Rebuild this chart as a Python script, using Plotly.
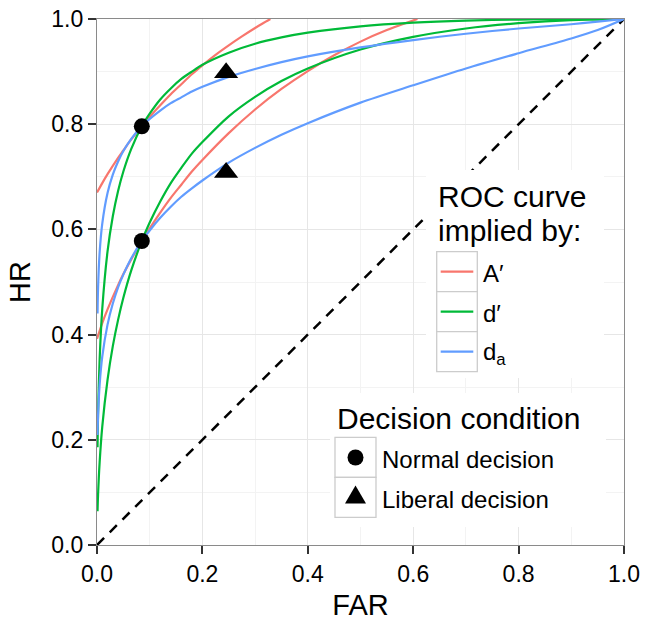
import plotly.graph_objects as go

# ---- data -------------------------------------------------------------
# A' iso-sensitivity curves (upper = more sensitive observer)
aprime_far_hi = [0.0, 0.01, 0.02, 0.04, 0.05, 0.065, 0.085, 0.1, 0.12, 0.14, 0.16,
                 0.18, 0.2, 0.225, 0.25, 0.275, 0.3, 0.315, 0.329]
aprime_hr_hi = [0.670, 0.688, 0.705, 0.736, 0.750, 0.771, 0.796, 0.814, 0.836, 0.857,
                0.876, 0.895, 0.912, 0.932, 0.950, 0.967, 0.983, 0.992, 1.0]
aprime_far_lo = [0.0, 0.01, 0.02, 0.04, 0.05, 0.065, 0.085, 0.1, 0.12, 0.14, 0.16,
                 0.18, 0.2, 0.25, 0.3, 0.35, 0.4, 0.45, 0.5, 0.55, 0.608]
aprime_hr_lo = [0.392, 0.422, 0.448, 0.494, 0.515, 0.543, 0.578, 0.602, 0.632, 0.660,
                0.685, 0.710, 0.732, 0.783, 0.828, 0.867, 0.901, 0.931, 0.957, 0.979, 1.0]

# FAR values shared by the d' and d_a curves
far_grid = [0.001, 0.002, 0.005, 0.01, 0.02, 0.03, 0.04, 0.05, 0.065, 0.085, 0.1,
            0.12, 0.14, 0.16, 0.18, 0.2, 0.25, 0.3, 0.35, 0.4, 0.5, 0.6, 0.7, 0.8,
            0.9, 0.95, 1.0]
dprime_hr_hi = [0.186, 0.249, 0.353, 0.449, 0.558, 0.625, 0.673, 0.710, 0.753, 0.796,
                0.820, 0.847, 0.868, 0.886, 0.900, 0.913, 0.936, 0.953, 0.965, 0.974,
                0.986, 0.993, 0.997, 0.999, 1.0, 1.0, 1.0]
dprime_hr_lo = [0.064, 0.095, 0.157, 0.225, 0.314, 0.378, 0.428, 0.470, 0.522, 0.578,
                0.613, 0.653, 0.688, 0.717, 0.744, 0.766, 0.815, 0.852, 0.882, 0.906,
                0.942, 0.966, 0.982, 0.992, 0.998, 0.999, 1.0]
da_hr_hi = [0.440, 0.488, 0.556, 0.611, 0.669, 0.704, 0.729, 0.749, 0.772, 0.796,
            0.810, 0.826, 0.840, 0.851, 0.862, 0.871, 0.890, 0.905, 0.918, 0.929,
            0.946, 0.960, 0.972, 0.982, 0.990, 0.995, 1.0]
da_hr_lo = [0.209, 0.246, 0.305, 0.358, 0.419, 0.459, 0.490, 0.514, 0.545, 0.578,
            0.598, 0.622, 0.643, 0.662, 0.678, 0.693, 0.727, 0.755, 0.780, 0.802,
            0.841, 0.874, 0.906, 0.935, 0.963, 0.979, 1.0]

# observed operating points
normal_far = [0.085, 0.085]
normal_hr = [0.796, 0.578]
liberal_far = [0.245, 0.245]
liberal_hr = [0.898, 0.708]

chance_line = [0.0, 1.0]

axis_ticks = [0.0, 0.2, 0.4, 0.6, 0.8, 1.0]
axis_ticktext = ["0.0", "0.2", "0.4", "0.6", "0.8", "1.0"]

roc_title = ["ROC curve", "implied by:"]
roc_labels = ["A\u2032", "d\u2032", "d<sub>a</sub>"]
decision_title = "Decision condition"
decision_labels = ["Normal decision", "Liberal decision"]

# ---- style ------------------------------------------------------------
FONT = "Liberation Sans, Arial, sans-serif"
RED, GREEN, BLUE = "#F8766D", "#00BA38", "#619CFF"
CURVE_W = 2.2

ML, MR, MT, MB = 97, 22, 19, 76
FIG_W, FIG_H = 646, 621
PW, PH = FIG_W - ML - MR, FIG_H - MT - MB


def px(x):
    return (x - ML) / PW


def py(y):
    return 1 - (y - MT) / PH


fig = go.Figure()

fig.add_trace(go.Scatter(x=chance_line, y=chance_line, mode="lines",
                         line=dict(color="black", width=2.5, dash="10px,8px"),
                         showlegend=False, hoverinfo="skip"))

curves = [
    (aprime_far_hi, aprime_hr_hi, RED),
    (aprime_far_lo, aprime_hr_lo, RED),
    (far_grid, dprime_hr_hi, GREEN),
    (far_grid, dprime_hr_lo, GREEN),
    (far_grid, da_hr_hi, BLUE),
    (far_grid, da_hr_lo, BLUE),
]
for xs, ys, col in curves:
    fig.add_trace(go.Scatter(x=xs, y=ys, mode="lines",
                             line=dict(color=col, width=CURVE_W, shape="spline", smoothing=0.8),
                             showlegend=False))

fig.add_trace(go.Scatter(x=normal_far, y=normal_hr, mode="markers",
                         marker=dict(symbol="circle", size=16, color="black"),
                         showlegend=False))
fig.add_trace(go.Scatter(x=liberal_far, y=liberal_hr, mode="markers",
                         marker=dict(symbol="triangle-up", size=21, color="black"),
                         showlegend=False))

# ---- legend panels drawn in paper space --------------------------------
shapes = []
annotations = []

# ROC legend
shapes.append(dict(type="rect", xref="paper", yref="paper", layer="above",
                   x0=px(426), x1=px(604), y0=py(378), y1=py(170),
                   fillcolor="white", line=dict(width=0)))
annotations.append(dict(text=roc_title[0], x=px(436), y=py(196)))
annotations.append(dict(text=roc_title[1], x=px(436), y=py(230.5)))
for i, (lab, col) in enumerate(zip(roc_labels, [RED, GREEN, BLUE])):
    top = 251.7 + 40 * i
    shapes.append(dict(type="rect", xref="paper", yref="paper", layer="above",
                       x0=px(436.7), x1=px(477.3), y0=py(top + 40), y1=py(top),
                       fillcolor="white", line=dict(color="#cccccc", width=1.3)))
    shapes.append(dict(type="line", xref="paper", yref="paper", layer="above",
                       x0=px(440.7), x1=px(473.3), y0=py(top + 20), y1=py(top + 20),
                       line=dict(color=col, width=CURVE_W)))
    annotations.append(dict(text=lab, x=px(481), y=py(top + 22), size=24))

# decision legend
shapes.append(dict(type="rect", xref="paper", yref="paper", layer="above",
                   x0=px(330), x1=px(606), y0=py(527), y1=py(393),
                   fillcolor="white", line=dict(width=0)))
annotations.append(dict(text=decision_title, x=px(335), y=py(418)))
for i, lab in enumerate(decision_labels):
    top = 437.3 + 40 * i
    shapes.append(dict(type="rect", xref="paper", yref="paper", layer="above",
                       x0=px(335), x1=px(376), y0=py(top + 40), y1=py(top),
                       fillcolor="white", line=dict(color="#cccccc", width=1.3)))
    annotations.append(dict(text=lab, x=px(380), y=py(top + 22), size=24))

cx, cy = 355.5, 457.5
shapes.append(dict(type="circle", xref="paper", yref="paper", layer="above",
                   x0=px(cx - 8), x1=px(cx + 8), y0=py(cy + 8), y1=py(cy - 8),
                   fillcolor="black", line=dict(width=0)))
tx, ty = 355.5, 497.5
tri = [(tx, ty - 12.1), (tx - 10.5, ty + 6.1), (tx + 10.5, ty + 6.1)]
path = "M" + " L".join(f"{px(a):.5f},{py(b):.5f}" for a, b in tri) + " Z"
shapes.append(dict(type="path", xref="paper", yref="paper", layer="above",
                   path=path, fillcolor="black", line=dict(width=0)))

ann_objs = []
for a in annotations:
    ann_objs.append(dict(text=a["text"], x=a["x"], y=a["y"], xref="paper", yref="paper",
                         xanchor="left", yanchor="middle", showarrow=False,
                         font=dict(family=FONT, size=a.get("size", 30), color="black")))

axis_common = dict(
    range=[0, 1], tickvals=axis_ticks, ticktext=axis_ticktext,
    ticks="outside", ticklen=8, tickwidth=1.5, tickcolor="#333333",
    showline=True, mirror=True, linecolor="#8a8a8a", linewidth=1.3,
    showgrid=True, gridcolor="#e6e6e6", gridwidth=1,
    minor=dict(tickvals=[0.1, 0.3, 0.5, 0.7, 0.9], showgrid=True,
               gridcolor="#f3f3f3", gridwidth=1),
    zeroline=False, automargin=False,
    tickfont=dict(family=FONT, size=23, color="black"),
)

fig.update_layout(
    width=FIG_W, height=FIG_H,
    margin=dict(l=ML, r=MR, t=MT, b=MB),
    paper_bgcolor="white", plot_bgcolor="white",
    xaxis=dict(axis_common, title=dict(text="FAR", standoff=12,
                                       font=dict(family=FONT, size=29, color="black"))),
    yaxis=dict(axis_common, title=dict(text="HR", standoff=12,
                                       font=dict(family=FONT, size=29, color="black"))),
    shapes=shapes,
    annotations=ann_objs,
    showlegend=False,
)

fig.write_html("out.html")
